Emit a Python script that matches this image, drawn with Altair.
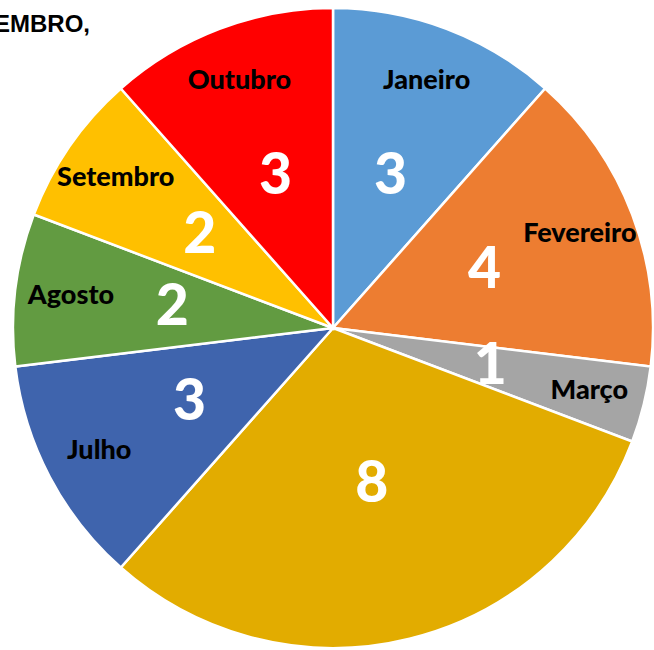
import altair as alt
import pandas as pd

categories = ["Janeiro", "Fevereiro", "Março", "Abril–Junho", "Julho", "Agosto", "Setembro", "Outubro"]
labels = ["Janeiro", "Fevereiro", "Março", "", "Julho", "Agosto", "Setembro", "Outubro"]
values = [3, 4, 1, 8, 3, 2, 2, 3]
colors = ["#5B9BD5", "#ED7D31", "#A5A5A5", "#E2AC00", "#3F64AD", "#629B41", "#FFC000", "#FF0000"]
title_text = "SETEMBRO,"

df = pd.DataFrame({
    "categoria": categories,
    "rotulo": labels,
    "valor": values,
    "ordem": list(range(len(categories))),
})

cx, cy, R = 333, 328, 320

base = alt.Chart(df).encode(
    theta=alt.Theta("valor:Q", stack=True),
    order=alt.Order("ordem:Q"),
    x=alt.value(cx),
    y=alt.value(cy),
)

arcs = base.mark_arc(radius=R, stroke="white", strokeWidth=2.5).encode(
    color=alt.Color("categoria:N", scale=alt.Scale(domain=categories, range=colors), legend=None)
)

nums = base.mark_text(radius=162, font="Lato", fontWeight=900, fontSize=57,
                      color="white", baseline="middle", align="center").encode(
    text=alt.Text("valor:Q")
)

names = base.mark_text(radius=264, font="Lato", fontWeight=900, fontSize=27,
                       color="black", baseline="middle", align="center").encode(
    text=alt.Text("rotulo:N")
)

title = alt.Chart(pd.DataFrame({"t": [title_text]})).mark_text(
    font="Liberation Sans", fontWeight="bold", fontSize=24, color="black",
    align="right", baseline="middle"
).encode(text="t:N", x=alt.value(90), y=alt.value(25))

chart = alt.layer(arcs, nums, names, title).properties(
    width=654, height=650,
    autosize=alt.AutoSizeParams(type="none"),
    padding=0,
).configure_view(stroke=None)

chart.save("out.html", embed_options={"renderer": "svg", "actions": False})
